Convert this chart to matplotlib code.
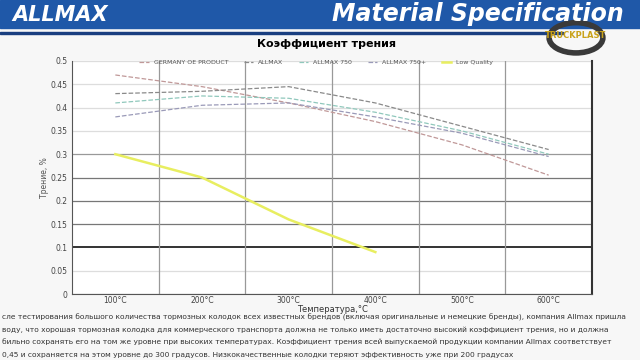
import numpy as np
import matplotlib
matplotlib.use("Agg")
import matplotlib.pyplot as plt
from matplotlib.patches import Rectangle, Circle

# data
temps = ["100°C", "200°C", "300°C", "400°C", "500°C", "600°C"]
germany_oe = [0.47, 0.445, 0.41, 0.37, 0.32, 0.255]
allmax = [0.43, 0.435, 0.445, 0.41, 0.36, 0.31]
allmax_750 = [0.41, 0.425, 0.42, 0.39, 0.35, 0.30]
allmax_750p = [0.38, 0.405, 0.41, 0.38, 0.345, 0.295]
low_quality = [0.30, 0.25, 0.16, 0.09, np.nan, np.nan]
yticks = [0, 0.05, 0.1, 0.15, 0.2, 0.25, 0.3, 0.35, 0.4, 0.45, 0.5]
ytick_labels = ["0", "0.05", "0.1", "0.15", "0.2", "0.25", "0.3", "0.35", "0.4", "0.45", "0.5"]

plt.rcParams['font.family'] = ['DejaVu Sans']

fig = plt.figure(figsize=(6.4, 3.6), dpi=100)
fig.patch.set_facecolor("#f7f7f7")

# banner
fig.patches.append(Rectangle((0, 1 - 28/360), 1, 28/360, transform=fig.transFigure,
                             color="#1f58a8", zorder=0))
fig.patches.append(Rectangle((0, 1 - 34/360), 0.88, 2/360, transform=fig.transFigure,
                             color="#1a3f80", zorder=0))
fig.text(0.02, 0.985, "ALLMAX", color="white", fontsize=15, fontweight="bold",
         style="italic", va="top", ha="left")
fig.text(0.975, 0.995, "Material Specification", color="white", fontsize=17,
         fontweight="bold", style="italic", va="top", ha="right")
# watermark logo
fig.patches.append(Circle((0.9, 0.895), 0.042, transform=fig.transFigure,
                          fill=False, lw=4, ec="#3a3a3a", zorder=3))
fig.text(0.9, 0.9, "TRUCKPLAST", color="#c9a21a", fontsize=6, fontweight="bold",
         ha="center", va="center", zorder=4)

fig.text(0.51, 0.877, "Коэффициент трения", fontsize=8, fontweight="bold",
         ha="center", va="center")

ax = fig.add_axes([72/640, 66/360, 520/640, 233/360])
ax.set_facecolor("white")
x = np.arange(len(temps))

grid_colors = ["#aaaaaa", "#dddddd", "#111111", "#777777", "#777777", "#777777",
               "#999999", "#dddddd", "#dddddd", "#dddddd", "#dddddd"]
for yv, c in zip(yticks, grid_colors):
    ax.axhline(yv, color=c, lw=1.2 if c == "#111111" else 0.9, zorder=1)
for i in range(len(temps) - 1):
    ax.axvline(i + 0.5, color="#999999", lw=0.9, zorder=1)

ax.plot(x, germany_oe, color="#c09898", ls="--", lw=0.9, label="GERMANY OE PRODUCT")
ax.plot(x, allmax, color="#8a8a8a", ls="--", lw=0.9, label="ALLMAX")
ax.plot(x, allmax_750, color="#90c8bc", ls="--", lw=0.9, label="ALLMAX 750")
ax.plot(x, allmax_750p, color="#9a9ab8", ls="--", lw=0.9, label="ALLMAX 750+")
ax.plot(x, low_quality, color="#e8ee60", lw=1.8, label="Low Quality")

ax.set_xlim(-0.5, 5.5)
ax.set_ylim(0, 0.5)
ax.set_xticks(x)
ax.set_xticklabels(temps, fontsize=5.5, color="#444444")
ax.set_yticks(yticks)
ax.set_yticklabels(ytick_labels, fontsize=5.5, color="#444444")
ax.tick_params(axis="x", length=0, pad=1.5)
ax.tick_params(axis="y", length=0, pad=3)
ax.spines["top"].set_visible(False)
ax.spines["left"].set_color("#555555")
ax.spines["bottom"].set_color("#555555")
ax.spines["right"].set_color("#333333")
ax.spines["right"].set_linewidth(1.5)
ax.set_xlabel("Температура,°С", fontsize=6, color="#333333", labelpad=0)
ax.set_ylabel("Трение, %", fontsize=5.5, color="#555555", labelpad=1)

ax.legend(loc="upper center", bbox_to_anchor=(0.47, 1.03), ncol=5, frameon=False,
          fontsize=4.5, handlelength=1.5, columnspacing=2.5, labelcolor="#555555")

lines_text = [
    "сле тестирования большого количества тормозных колодок всех известных брендов (включая оригинальные и немецкие бренды), компания Allmax пришла",
    "воду, что хорошая тормозная колодка для коммерческого транспорта должна не только иметь достаточно высокий коэффициент трения, но и должна",
    "бильно сохранять его на том же уровне при высоких температурах. Коэффициент трения всей выпускаемой продукции компании Allmax соответствует",
    "0,45 и сохраняется на этом уровне до 300 градусов. Низкокачественные колодки теряют эффективность уже при 200 градусах",
]
for k, t in enumerate(lines_text):
    fig.text(0.003, 1 - (317 + 12.5 * k)/360, t, fontsize=5.4, color="#333333",
             ha="left", va="center")

fig.savefig("out.png", dpi=100, facecolor=fig.get_facecolor())
